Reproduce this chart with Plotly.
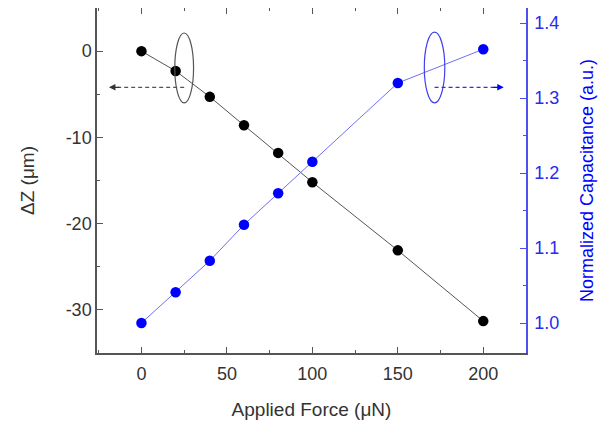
import plotly.graph_objects as go

force = [0, 20, 40, 60, 80, 100, 150, 200]
delta_z = [0.0, -2.3, -5.3, -8.6, -11.8, -15.2, -23.1, -31.3]
norm_cap = [1.000, 1.041, 1.083, 1.131, 1.173, 1.215, 1.320, 1.365]

x_ticks = [0, 50, 100, 150, 200]
x_minor = [-25, 25, 75, 125, 175, 225]
y_ticks = [0, -10, -20, -30]
y_labels = ["0", "-10", "-20", "-30"]
y_minor = [5, -5, -15, -25, -35]
y2_ticks = [1.0, 1.1, 1.2, 1.3, 1.4]
y2_labels = ["1.0", "1.1", "1.2", "1.3", "1.4"]
y2_minor = [1.05, 1.15, 1.25, 1.35]

FONT = "Liberation Sans, Arial, sans-serif"
AX = "#555555"
BLUE = "#0000ff"
BLUE_AX = "#5050f0"

fig = go.Figure()
fig.add_trace(go.Scatter(x=force, y=delta_z, mode="lines+markers",
                         line=dict(color="#555555", width=1),
                         marker=dict(color="black", size=10.5), showlegend=False))
fig.add_trace(go.Scatter(x=force, y=norm_cap, mode="lines+markers", yaxis="y2",
                         line=dict(color="#6f6ff5", width=1),
                         marker=dict(color=BLUE, size=10.5), showlegend=False))

# ellipses
fig.add_shape(type="circle", xref="x", yref="y", x0=19.5, x1=30.5, y0=-6.0, y1=2.1,
              line=dict(color="#555555", width=1.2))
fig.add_shape(type="circle", xref="x", yref="y", x0=165.5, x1=177.5, y0=-6.0, y1=2.2,
              line=dict(color="#4040f0", width=1.2))
# dashed arrows
fig.add_shape(type="line", xref="x", yref="y", x0=25, x1=-14, y0=-4.2, y1=-4.2,
              line=dict(color="#555555", width=1.3, dash="4px,3px"))
fig.add_annotation(x=-19, y=-4.2, ax=-12, ay=-4.2, xref="x", yref="y", axref="x", ayref="y",
                   text="", showarrow=True, arrowhead=2, arrowsize=1, arrowwidth=1.3,
                   arrowcolor="#333333")
fig.add_shape(type="line", xref="x", yref="y", x0=171.5, x1=209, y0=-4.2, y1=-4.2,
              line=dict(color="#3030f0", width=1.3, dash="4px,3px"))
fig.add_annotation(x=212, y=-4.2, ax=205, ay=-4.2, xref="x", yref="y", axref="x", ayref="y",
                   text="", showarrow=True, arrowhead=2, arrowsize=1, arrowwidth=1.3,
                   arrowcolor=BLUE)

fig.update_layout(
    width=611, height=423,
    margin=dict(l=89, r=93, t=0, b=78),
    paper_bgcolor="white", plot_bgcolor="white",
    font=dict(family=FONT, size=18, color="#333333"),
    xaxis=dict(range=[-26, 225], tickmode="array", tickvals=x_ticks, ticks="inside", ticklen=6,
               tickcolor=AX, showline=True, linecolor=AX, linewidth=1.5, mirror="ticks",
               showgrid=False, zeroline=False, automargin=False, ticklabelstandoff=4,
               minor=dict(tickvals=x_minor, ticks="inside", ticklen=3, tickcolor=AX),
               title=dict(text="Applied Force (μN)", font=dict(size=19), standoff=19),
               tickfont=dict(size=18)),
    yaxis=dict(range=[-35, 5], tickmode="array", tickvals=y_ticks, ticktext=y_labels,
               ticks="inside", ticklen=6, tickcolor=AX, showline=True, linecolor=AX,
               linewidth=1.5, showgrid=False, zeroline=False, automargin=False,
               minor=dict(tickvals=y_minor, ticks="inside", ticklen=3, tickcolor=AX),
               title=dict(text="ΔZ (μm)", font=dict(size=19), standoff=26),
               tickfont=dict(size=18)),
    yaxis2=dict(range=[0.96, 1.42], overlaying="y", side="right", tickmode="array",
                tickvals=y2_ticks, ticktext=y2_labels,
                ticks="inside", ticklen=6, tickcolor=BLUE_AX, showline=True,
                linecolor=BLUE_AX, linewidth=1.5, showgrid=False, zeroline=False,
                automargin=False, ticklabelstandoff=3,
                minor=dict(tickvals=y2_minor, ticks="inside", ticklen=3, tickcolor=BLUE_AX),
                title=dict(text="Normalized Capacitance (a.u.)", font=dict(size=18, color=BLUE),
                           standoff=22),
                tickfont=dict(size=18, color="#2a2af0")),
)

fig.write_html("out.html")
